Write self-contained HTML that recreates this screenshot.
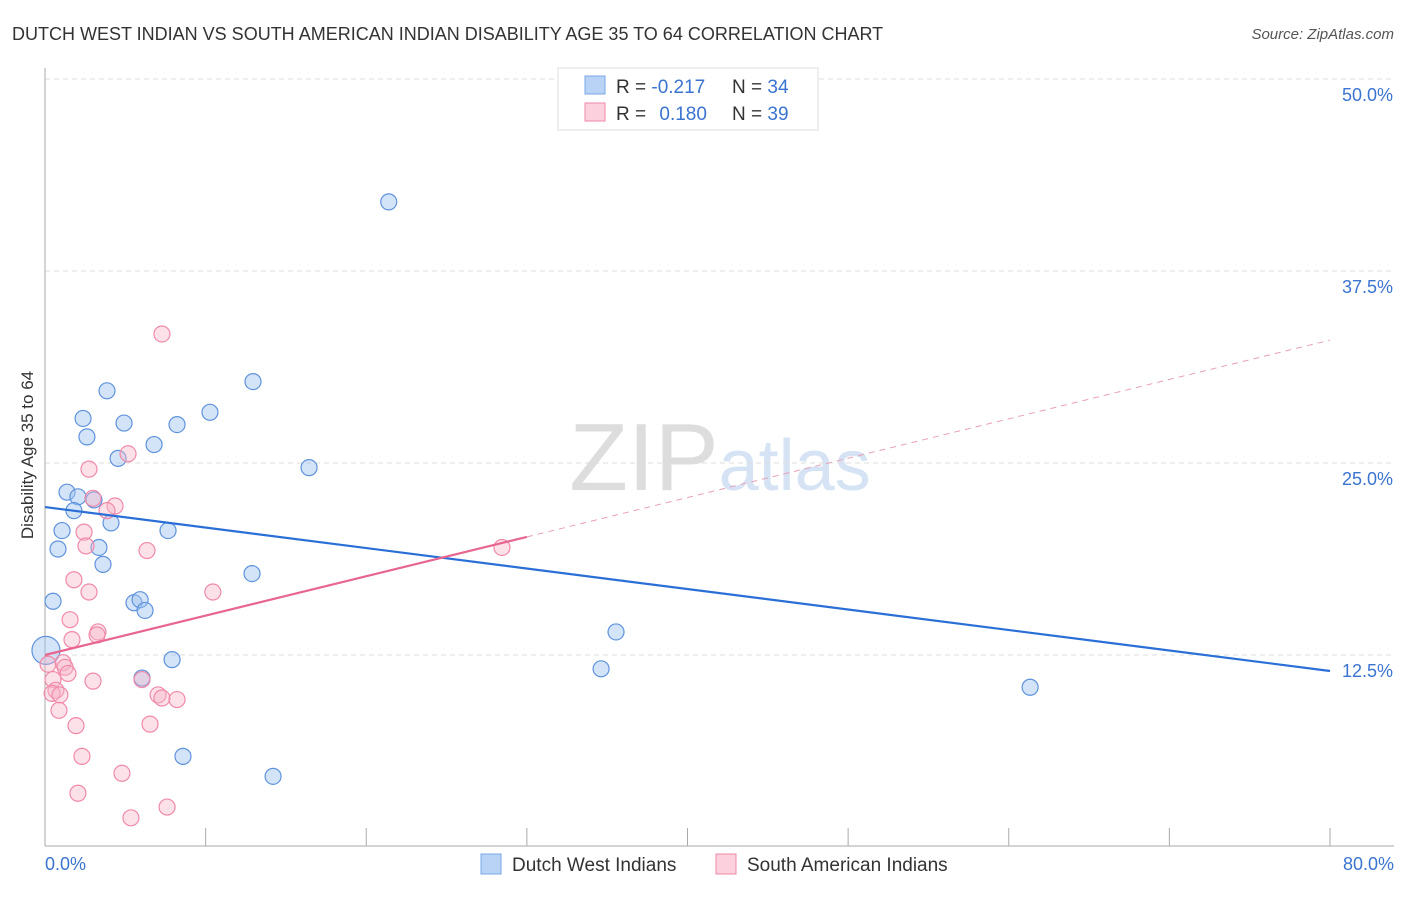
<!DOCTYPE html>
<html><head><meta charset="utf-8"><style>
body{margin:0;background:#fff;font-family:"Liberation Sans",sans-serif}
svg text{font-family:"Liberation Sans",sans-serif}
</style></head><body>
<svg id="chart" width="1406" height="892" xmlns="http://www.w3.org/2000/svg">
<text x="12" y="40" font-size="18" fill="#333">DUTCH WEST INDIAN VS SOUTH AMERICAN INDIAN DISABILITY AGE 35 TO 64 CORRELATION CHART</text>
<text x="1394" y="39" font-size="15" fill="#555" text-anchor="end" font-style="italic">Source: ZipAtlas.com</text>
<text x="720" y="490" font-size="96" fill="#ddd" text-anchor="middle" font-family="Liberation Serif">ZIP<tspan fill="#d5e3f5" font-family="Liberation Sans" font-size="72">atlas</tspan></text>
<g id="grid"></g><g id="axes"></g><g id="pts"></g><g id="trends"></g>
<text transform="translate(33,455) rotate(-90)" font-size="17" fill="#333" text-anchor="middle">Disability Age 35 to 64</text>
<g>
<rect x="558" y="68" width="260" height="62" fill="#fff" stroke="#ddd"/>
<rect x="585" y="76" width="20" height="18" fill="#b8d3f5" stroke="#7aa7e6"/>
<rect x="585" y="103" width="20" height="18" fill="#fcd0dc" stroke="#f08aa8"/>
<text x="616" y="93" font-size="19" fill="#333">R = <tspan fill="#3b74d0">-0.217</tspan></text>
<text x="732" y="93" font-size="19" fill="#333">N = <tspan fill="#3b74d0">34</tspan></text>
<text x="616" y="120" font-size="19" fill="#333">R = <tspan fill="#3b74d0" dx="8">0.180</tspan></text>
<text x="732" y="120" font-size="19" fill="#333">N = <tspan fill="#3b74d0">39</tspan></text>
</g>
<g>
<rect x="481" y="854" width="20" height="20" fill="#b8d3f5" stroke="#7aa7e6"/>
<text x="512" y="871" font-size="19" fill="#333">Dutch West Indians</text>
<rect x="716" y="854" width="20" height="20" fill="#fcd0dc" stroke="#f08aa8"/>
<text x="747" y="871" font-size="19" fill="#333">South American Indians</text>
</g>
</svg>
<script>
const blueX=[21.4,12.95,3.86,10.27,2.37,4.92,8.22,2.61,6.79,4.55,16.44,1.37,2.05,3.05,1.8,4.11,1.06,7.66,0.81,3.36,3.61,12.89,0.5,5.54,5.92,6.23,35.55,34.62,7.91,0.06,6.04,61.33,8.59,14.2];
const blueY=[42.0,30.3,29.7,28.3,27.9,27.6,27.5,26.7,26.2,25.3,24.7,23.1,22.8,22.6,21.9,21.1,20.6,20.6,19.4,19.5,18.4,17.8,16.0,15.9,16.1,15.4,14.0,11.6,12.2,12.8,11.0,10.4,5.9,4.6];
const pinkX=[7.28,5.17,2.74,2.99,4.36,3.86,2.43,2.55,6.35,1.8,2.74,10.45,1.56,3.30,3.24,1.68,1.12,1.25,1.43,0.5,0.68,0.44,0.93,2.99,6.04,7.04,7.28,8.22,0.87,1.93,6.54,2.30,4.79,2.05,7.60,5.35,28.45,0.19];
const pinkY=[33.4,25.6,24.6,22.7,22.2,21.9,20.5,19.6,19.3,17.4,16.6,16.6,14.8,14.0,13.8,13.5,12.0,11.7,11.3,10.9,10.2,10.0,9.9,10.8,10.9,9.9,9.7,9.6,8.9,7.9,8.0,5.9,4.8,3.5,2.6,1.9,19.5,11.9];
const blueTrend=[22.13,11.46];   // y at x=0 and x=80
const pinkTrend=[12.5,33.0];     // y at x=0 and x=80
const pinkSolidEnd=30;
const xTicks=[0,10,20,30,40,50,60,70,80];
const yTicks=[12.5,25,37.5,50];
const NS="http://www.w3.org/2000/svg";
const X=v=>45+v*(1285/80), Y=v=>847-v*15.36;
function mk(tag,attrs,parent){const e=document.createElementNS(NS,tag);for(const k in attrs)e.setAttribute(k,attrs[k]);document.getElementById(parent).appendChild(e);return e;}
yTicks.forEach(t=>{
 const l=mk('line',{x1:45,x2:1394,y1:Y(t),y2:Y(t),stroke:'#ddd','stroke-dasharray':'5,4'},'grid');
 
 
 const tx=mk('text',{x:1393,y:Y(t)+22,'font-size':18,fill:'#3b74d0','text-anchor':'end'},'grid');
 tx.textContent=t.toFixed(1)+'%';
 
 
});
const ax=mk('line',{x1:45,x2:45,y1:68,y2:846,stroke:'#aaa'},'axes');


const bx=mk('line',{x1:45,x2:1394,y1:846,y2:846,stroke:'#aaa'},'axes');


xTicks.forEach(t=>{
 const l=mk('line',{x1:X(t),x2:X(t),y1:828,y2:846,stroke:'#aaa'},'axes');
 
 
});
[[0,'0.0%','start',45],[80,'80.0%','end',1394]].forEach(a=>{
 const tx=mk('text',{x:a[3],y:870,'font-size':18,fill:'#3b74d0','text-anchor':a[2]},'axes');
 tx.textContent=a[1];
 
 
});
blueX.forEach((x,i)=>{
 const c=mk('circle',{cx:X(x),cy:Y(blueY[i]),r:i==29?14:8,fill:'rgba(160,195,240,0.45)',stroke:'#5f93dc','stroke-width':1.2},'pts');
 
 
});
pinkX.forEach((x,i)=>{
 const c=mk('circle',{cx:X(x),cy:Y(pinkY[i]),r:8,fill:'rgba(248,180,200,0.4)',stroke:'#f08aa8','stroke-width':1.2},'pts');
 
 
});
const bl=mk('line',{x1:X(0),y1:Y(blueTrend[0]),x2:X(80),y2:Y(blueTrend[1]),stroke:'#2a6fd6','stroke-width':2.2},'trends');


const pm=pinkTrend[0]+(pinkTrend[1]-pinkTrend[0])*pinkSolidEnd/80;
const pl=mk('line',{x1:X(0),y1:Y(pinkTrend[0]),x2:X(pinkSolidEnd),y2:Y(pm),stroke:'#e8658f','stroke-width':2.2},'trends');


const pd=mk('line',{x1:X(pinkSolidEnd),y1:Y(pm),x2:X(80),y2:Y(pinkTrend[1]),stroke:'#e8a0b8','stroke-width':1,'stroke-dasharray':'6,5'},'trends');


</script>
</body></html>
